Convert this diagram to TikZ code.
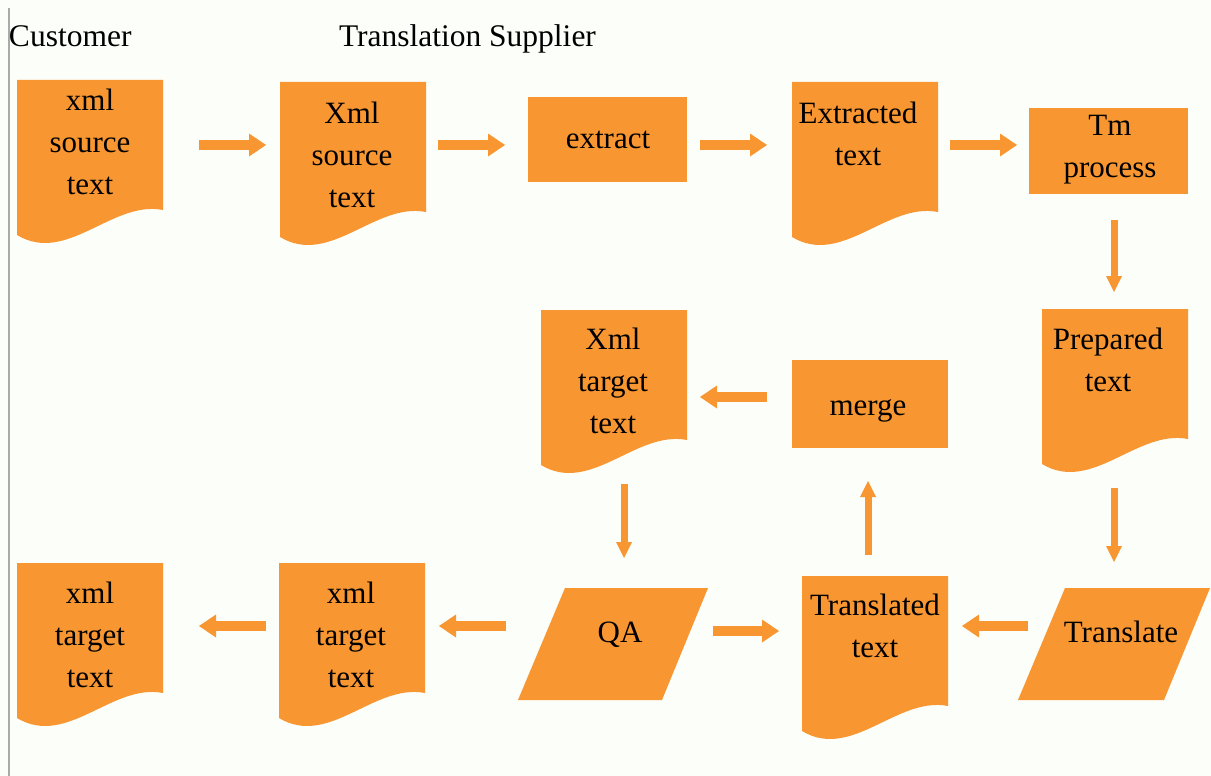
\documentclass[tikz,border=0pt]{standalone}
\usepackage{fontspec}
\setmainfont{Liberation Serif}
\usetikzlibrary{arrows.meta}
\definecolor{boxorange}{RGB}{248,150,50}
\definecolor{paper}{RGB}{252,254,249}
\definecolor{frameline}{RGB}{170,170,170}
\tikzset{
  % document symbol: flat top, wavy bottom; path picture origin is the node centre
  docshape/.style={minimum width=146pt, minimum height=163pt,
    path picture={\fill[boxorange]
      (-73,-81.5) -- (73,-81.5) -- (73,48.5) .. controls (22,38.5) and (-23,103.5) .. (-73,73.5) -- cycle;}},
  procbox/.style={fill=boxorange},
  ioshape/.style={minimum height=112pt,
    path picture={\fill[boxorange]
      ([xshift=47pt]path picture bounding box.north west) -- (path picture bounding box.north east)
      -- ([xshift=-46pt]path picture bounding box.south east) -- (path picture bounding box.south west) -- cycle;}},
  lbl/.style={font=\fontsize{31}{42}\selectfont, align=center, anchor=base},
  head/.style={font=\fontsize{31.5}{36}\selectfont, anchor=base west},
  harrow/.style={draw=boxorange, line width=10pt, -{Triangle[width=23pt,length=17pt,line width=0pt]}},
  varrow/.style={draw=boxorange, line width=7pt, -{Triangle[width=16pt,length=16pt,line width=0pt]}}
}
\begin{document}
\begin{tikzpicture}[x=1pt, y=-1pt, every node/.style={inner sep=0pt, outer sep=0pt}]
  \fill[paper] (0,0) rectangle (1211,776);
  \useasboundingbox (0,0) rectangle (1211,776);
  \draw[frameline, line width=1.5pt] (9,8) -- (9,776);

  % column headings
  \node[head] (cust) at (9,47) {Customer};
  \node[head] (supp) at (339,47) {Translation Supplier};

  % shapes
  \node[docshape] (d1) at (90,161.5) {};
  \node[docshape] (d2) at (353,163.5) {};
  \node[procbox, minimum width=159pt, minimum height=85pt] (ex) at (607.5,139.5) {};
  \node[docshape] (d3) at (865,163.5) {};
  \node[procbox, minimum width=159pt, minimum height=86pt] (tm) at (1108.5,151) {};
  \node[docshape] (pr) at (1115,390.5) {};
  \node[procbox, minimum width=156pt, minimum height=88pt] (mg) at (870,404) {};
  \node[docshape] (xt) at (614,391.5) {};
  \node[ioshape, minimum width=190pt] (qa) at (613,644) {};
  \node[ioshape, minimum width=192pt] (tl) at (1114,644) {};
  \node[docshape] (tt) at (875,657.5) {};
  \node[docshape] (x2) at (352,644.5) {};
  \node[docshape] (x1) at (90,644.5) {};

  % labels (placed by the baseline of their last line)
  \node[lbl] (d1-t) at (90,194) {xml\\source\\text};
  \node[lbl] (d2-t) at (352,207) {Xml\\source\\text};
  \node[lbl] (ex-t) at (608,148) {extract};
  \node[lbl] (d3-t) at (858,165) {Extracted\\text};
  \node[lbl] (tm-t) at (1110,177) {Tm\\process};
  \node[lbl] (pr-t) at (1108,391) {Prepared\\text};
  \node[lbl] (mg-t) at (868,415) {merge};
  \node[lbl] (xt-t) at (613,433) {Xml\\target\\text};
  \node[lbl] (qa-t) at (620,642) {QA};
  \node[lbl] (tl-t) at (1121,642) {Translate};
  \node[lbl] (tt-t) at (875,657) {Translated\\text};
  \node[lbl] (x2-t) at (351,687) {xml\\target\\text};
  \node[lbl] (x1-t) at (90,687) {xml\\target\\text};

  % flow
  \draw[harrow] ([shift={(36,-16.5)}]d1.east) -- ([shift={(-14,-18.5)}]d2.west);
  \draw[harrow] ([shift={(12,-18.5)}]d2.east) -- ([shift={(-23,5.5)}]ex.west);
  \draw[harrow] ([shift={(13,5.5)}]ex.east) -- ([shift={(-25,-18.5)}]d3.west);
  \draw[harrow] ([shift={(12,-18.5)}]d3.east) -- ([shift={(-12,-6)}]tm.west);
  \draw[varrow] ([shift={(5.5,26)}]tm.south) -- ([shift={(-1,-17)}]pr.north);
  \draw[varrow] ([shift={(-1,16)}]pr.south) -- ([shift={(0,-26)}]tl.north);
  \draw[harrow] ([shift={(10,-18)}]tl.west) -- ([shift={(14,-31.5)}]tt.east);
  \draw[varrow] ([shift={(-7,-21)}]tt.north) -- ([shift={(-2,33)}]mg.south);
  \draw[harrow] ([shift={(-25,-7)}]mg.west) -- ([shift={(13,5.5)}]xt.east);
  \draw[varrow] ([shift={(10,11)}]xt.south) -- ([shift={(11,-30)}]qa.north);
  \draw[harrow] ([shift={(5,-13)}]qa.east) -- ([shift={(-23,-26.5)}]tt.west);
  \draw[harrow] ([shift={(-12,-18)}]qa.west) -- ([shift={(14,-18.5)}]x2.east);
  \draw[harrow] ([shift={(-13,-18.5)}]x2.west) -- ([shift={(36,-18.5)}]x1.east);
\end{tikzpicture}
\end{document}
